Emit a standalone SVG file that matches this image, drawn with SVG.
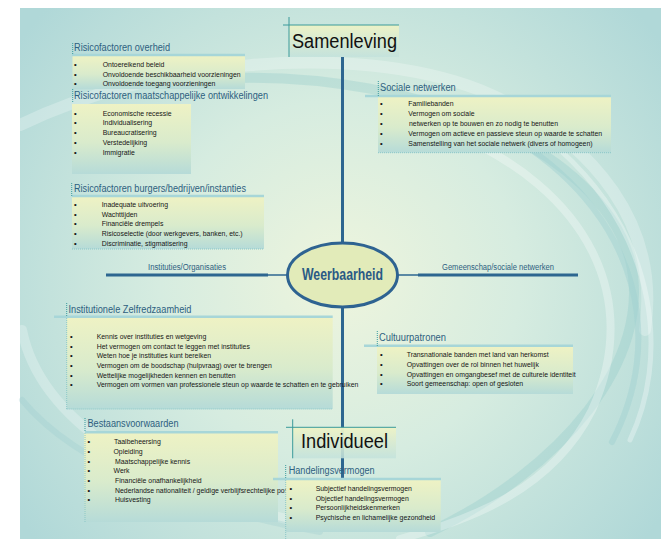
<svg xmlns="http://www.w3.org/2000/svg" width="661" height="539" viewBox="0 0 661 539">
<defs>
<radialGradient id="bg" cx="340" cy="280" r="400" gradientUnits="userSpaceOnUse">
<stop offset="0" stop-color="#eef5dd"/>
<stop offset="0.45" stop-color="#d6ece0"/>
<stop offset="1" stop-color="#b0d8d8"/>
</radialGradient>
<linearGradient id="boxg" x1="0" y1="0" x2="0" y2="1">
<stop offset="0" stop-color="#eef2c4"/>
<stop offset="0.55" stop-color="#d9ebcc"/>
<stop offset="1" stop-color="#b6dbd8"/>
</linearGradient>
<linearGradient id="headg" x1="0" y1="0" x2="0" y2="1">
<stop offset="0" stop-color="#eef3c6" stop-opacity="0.97"/>
<stop offset="1" stop-color="#c3e2dc" stop-opacity="0.85"/>
</linearGradient>
<style>
.title{font-family:"Liberation Sans",Arial,sans-serif;font-size:10px;fill:#2e5f80}
.item{font-family:"Liberation Sans",Arial,sans-serif;font-size:6.9px;fill:#151515}
.bul{font-family:"Liberation Sans",Arial,sans-serif;font-size:7.5px;font-weight:bold;fill:#151515}
.lbl{font-family:"Liberation Sans",Arial,sans-serif;font-size:8.5px;fill:#2e5f80}
.head{font-family:"Liberation Sans",Arial,sans-serif;font-size:20px;fill:#111}
.tick{stroke:#3a9c9e;stroke-width:1;stroke-dasharray:1 1;fill:none}
.bdr{stroke:#8cc7c8;stroke-width:1;stroke-dasharray:1 1;fill:none}
.uline{stroke:#a7d6d8;stroke-width:2.5;fill:none}
.box{fill:url(#boxg)}
.hbox{fill:url(#headg)}
.hline{stroke:#3a9a9a;stroke-width:1;fill:none}
.conn{stroke:#2d6690;fill:none}
.sw{fill:none;stroke-linecap:round}
</style>
</defs>

<g id="background">
<rect x="20" y="8" width="641" height="531" fill="url(#bg)"/>
<path class="sw" d="M20 125 C150 62 350 40 480 90 C600 140 660 230 645 330" stroke="#ffffff" stroke-opacity="0.25" stroke-width="12"/>
<path class="sw" d="M230 78 C420 72 600 150 630 260 C655 360 560 470 430 532" stroke="#8cc6c8" stroke-opacity="0.3" stroke-width="10"/>
<path class="sw" d="M450 132 C590 190 642 300 592 410 C552 490 470 520 400 539" stroke="#ffffff" stroke-opacity="0.3" stroke-width="8"/>
<path class="sw" d="M520 142 C640 220 665 340 612 442" stroke="#9fd0d0" stroke-opacity="0.45" stroke-width="6"/>
<path class="sw" d="M560 150 C660 240 668 360 630 440" stroke="#ffffff" stroke-opacity="0.3" stroke-width="5"/>
<path class="sw" d="M22 330 C40 420 150 490 300 522" stroke="#ffffff" stroke-opacity="0.25" stroke-width="10"/>
<path class="sw" d="M22 400 C80 470 200 510 320 532" stroke="#94c9cb" stroke-opacity="0.25" stroke-width="6"/>
</g>

<g id="connectors">
<line class="conn" x1="342.5" y1="57" x2="342.5" y2="243" stroke-width="3"/>
<line class="conn" x1="342.5" y1="307" x2="342.5" y2="482" stroke-width="3"/>
<line class="conn" x1="106" y1="275" x2="268" y2="275" stroke-width="3"/>
<line class="conn" x1="268" y1="275" x2="287.5" y2="275" stroke-width="1.5"/>
<line class="conn" x1="397.5" y1="275" x2="418" y2="275" stroke-width="1.5"/>
<line class="conn" x1="418" y1="275" x2="578" y2="275" stroke-width="3"/>
<text class="lbl" x="148" y="270" textLength="78" lengthAdjust="spacingAndGlyphs">Instituties/Organisaties</text>
<text class="lbl" x="442" y="270" textLength="112" lengthAdjust="spacingAndGlyphs">Gemeenschap/sociale netwerken</text>
</g>

<g id="samenleving">
<rect class="hbox" x="289" y="25" width="110" height="32"/>
<line class="hline" x1="283" y1="25" x2="399" y2="25"/>
<line class="hline" x1="289" y1="17" x2="289" y2="57"/>
<text class="head" x="292" y="47.5" textLength="105" lengthAdjust="spacingAndGlyphs">Samenleving</text>
</g>

<g id="weerbaarheid">
<ellipse cx="342.5" cy="275" rx="55" ry="32" fill="#e2ebb9" stroke="#2e6391" stroke-width="3"/>
<text x="302" y="280" font-family="Liberation Sans, Arial, sans-serif" font-size="16" font-weight="bold" fill="#2a5a85" textLength="81" lengthAdjust="spacingAndGlyphs">Weerbaarheid</text>
</g>

<g id="individueel">
<rect class="hbox" x="292.7" y="427.3" width="103.3" height="31"/>
<line class="hline" x1="286" y1="427.3" x2="396" y2="427.3"/>
<line class="hline" x1="292.7" y1="419.3" x2="292.7" y2="458.3"/>
<text class="head" x="301" y="447.7" textLength="87" lengthAdjust="spacingAndGlyphs">Individueel</text>
</g>

<g id="risico-overheid">
<rect class="box" x="72.5" y="56" width="172.5" height="33"/>
<line class="uline" x1="72" y1="55" x2="245" y2="55"/>
<line class="tick" x1="72.7" y1="43" x2="72.7" y2="55"/>
<text class="title" x="74" y="50.7" textLength="96" lengthAdjust="spacingAndGlyphs">Risicofactoren overheid</text>
<text class="bul" x="74" y="66.5">•</text><text class="item" x="102.7" y="66.5">Ontoereikend beleid</text>
<text class="bul" x="74" y="76.5">•</text><text class="item" x="102.7" y="76.5">Onvoldoende beschikbaarheid voorzieningen</text>
<text class="bul" x="74" y="86.3">•</text><text class="item" x="102.7" y="86.3">Onvoldoende toegang voorzieningen</text>
</g>

<g id="risico-maatschappelijk">
<rect class="box" x="72" y="104" width="119" height="70"/>
<line class="tick" x1="72.7" y1="89" x2="72.7" y2="103"/>
<text class="title" x="74" y="99" textLength="194" lengthAdjust="spacingAndGlyphs">Risicofactoren maatschappelijke ontwikkelingen</text>
<text class="bul" x="74" y="115.5">•</text><text class="item" x="102.7" y="115.5">Economische recessie</text>
<text class="bul" x="74" y="124.5">•</text><text class="item" x="102.7" y="124.5">Individualisering</text>
<text class="bul" x="74" y="134.5">•</text><text class="item" x="102.7" y="134.5">Bureaucratisering</text>
<text class="bul" x="74" y="144.5">•</text><text class="item" x="102.7" y="144.5">Verstedelijking</text>
<text class="bul" x="74" y="154.5">•</text><text class="item" x="102.7" y="154.5">Immigratie</text>
</g>

<g id="risico-burgers">
<rect class="box" x="72" y="197" width="192" height="52"/>
<line class="bdr" x1="72" y1="249" x2="264" y2="249"/>
<line class="uline" x1="72" y1="196" x2="264" y2="196"/>
<line class="tick" x1="71.7" y1="183" x2="71.7" y2="196"/>
<text class="title" x="74" y="191.7" textLength="172" lengthAdjust="spacingAndGlyphs">Risicofactoren burgers/bedrijven/instanties</text>
<text class="bul" x="74" y="206.5">•</text><text class="item" x="101.7" y="206.5">Inadequate uitvoering</text>
<text class="bul" x="74" y="216.5">•</text><text class="item" x="101.7" y="216.5">Wachttijden</text>
<text class="bul" x="74" y="226.3">•</text><text class="item" x="101.7" y="226.3">Financiële drempels</text>
<text class="bul" x="74" y="235.6">•</text><text class="item" x="101.7" y="235.6">Risicoselectie (door werkgevers, banken, etc.)</text>
<text class="bul" x="74" y="245.5">•</text><text class="item" x="101.7" y="245.5">Discriminatie, stigmatisering</text>
</g>

<g id="sociale-netwerken">
<rect class="box" x="378" y="97" width="233" height="55.7"/>
<line class="bdr" x1="378" y1="152.7" x2="611" y2="152.7"/>
<line class="uline" x1="365" y1="96" x2="611" y2="96"/>
<line class="tick" x1="378.3" y1="81" x2="378.3" y2="96"/>
<text class="title" x="380" y="91" textLength="75.7" lengthAdjust="spacingAndGlyphs">Sociale netwerken</text>
<text class="bul" x="380" y="106.3">•</text><text class="item" x="408.3" y="106.3">Familiebanden</text>
<text class="bul" x="380" y="116.3">•</text><text class="item" x="408.3" y="116.3">Vermogen om sociale</text>
<text class="bul" x="380" y="126">•</text><text class="item" x="409" y="126">netwerken op te bouwen en zo nodig te benutten</text>
<text class="bul" x="380" y="136">•</text><text class="item" x="408.3" y="136">Vermogen om actieve en passieve steun op waarde te schatten</text>
<text class="bul" x="380" y="146.3">•</text><text class="item" x="408.3" y="146.3">Samenstelling van het sociale netwerk (divers of homogeen)</text>
</g>

<g id="institutionele-zelfredzaamheid">
<rect class="box" x="66.7" y="318" width="266" height="91"/>
<line class="bdr" x1="66.7" y1="318" x2="66.7" y2="409"/>
<line class="bdr" x1="66.7" y1="409" x2="332.7" y2="409"/>
<line class="uline" x1="54" y1="316.7" x2="332.7" y2="316.7"/>
<line class="tick" x1="66.7" y1="303" x2="66.7" y2="317"/>
<text class="title" x="68.5" y="312.7" textLength="123" lengthAdjust="spacingAndGlyphs">Institutionele Zelfredzaamheid</text>
<text class="bul" x="70" y="339">•</text><text class="item" x="96.7" y="339">Kennis over instituties en wetgeving</text>
<text class="bul" x="70" y="349">•</text><text class="item" x="96.7" y="349">Het vermogen om contact te leggen met instituties</text>
<text class="bul" x="70" y="358">•</text><text class="item" x="96.7" y="358">Weten hoe je instituties kunt bereiken</text>
<text class="bul" x="70" y="367.6">•</text><text class="item" x="96.7" y="367.6">Vermogen om de boodschap (hulpvraag) over te brengen</text>
<text class="bul" x="70" y="377.6">•</text><text class="item" x="96.7" y="377.6">Wettelijke mogelijkheden kennen en benutten</text>
<text class="bul" x="70" y="387.3">•</text><text class="item" x="96.7" y="387.3">Vermogen om vormen van professionele steun op waarde te schatten en te gebruiken</text>
</g>

<g id="cultuurpatronen">
<rect class="box" x="377" y="347" width="196" height="47"/>
<line class="uline" x1="364" y1="345.7" x2="573" y2="345.7"/>
<line class="tick" x1="377.3" y1="331" x2="377.3" y2="346"/>
<text class="title" x="379" y="341" textLength="67" lengthAdjust="spacingAndGlyphs">Cultuurpatronen</text>
<text class="bul" x="380" y="356.6">•</text><text class="item" x="406.7" y="356.6">Transnationale banden met land van herkomst</text>
<text class="bul" x="380" y="366.6">•</text><text class="item" x="406.7" y="366.6">Opvattingen over de rol binnen het huwelijk</text>
<text class="bul" x="380" y="376.6">•</text><text class="item" x="406.7" y="376.6">Opvattingen en omgangbesef met de  culturele identiteit</text>
<text class="bul" x="380" y="386">•</text><text class="item" x="406.7" y="386">Soort gemeenschap: open of gesloten</text>
</g>

<g id="bestaansvoorwaarden">
<rect class="box" x="84" y="433" width="194" height="89"/>
<line class="bdr" x1="85" y1="433" x2="85" y2="522"/>
<line class="uline" x1="85" y1="432.3" x2="278" y2="432.3"/>
<line class="tick" x1="85" y1="418" x2="85" y2="432"/>
<text class="title" x="87.5" y="427.3" textLength="91" lengthAdjust="spacingAndGlyphs">Bestaansvoorwaarden</text>
<text class="bul" x="87.5" y="444">•</text><text class="item" x="114" y="444">Taalbeheersing</text>
<text class="bul" x="87.5" y="454">•</text><text class="item" x="113.5" y="454">Opleiding</text>
<text class="bul" x="87.5" y="463.6">•</text><text class="item" x="115" y="463.6">Maatschappelijke kennis</text>
<text class="bul" x="87.5" y="473.3">•</text><text class="item" x="113.5" y="473.3">Werk</text>
<text class="bul" x="87.5" y="482.6">•</text><text class="item" x="115" y="482.6">Financiële onafhankelijkheid</text>
<text class="bul" x="87.5" y="492.6">•</text><text class="item" x="115" y="492.6">Nederlandse nationaliteit / geldige verblijfsrechtelijke pos</text>
<text class="bul" x="87.5" y="502.3">•</text><text class="item" x="115" y="502.3">Huisvesting</text>
</g>

<g id="handelingsvermogen">
<rect class="box" x="285.7" y="480" width="155" height="52"/>
<line class="bdr" x1="285.7" y1="480" x2="285.7" y2="539"/>
<line class="uline" x1="273" y1="479" x2="441" y2="479"/>
<line class="tick" x1="285.7" y1="465" x2="285.7" y2="479"/>
<text class="title" x="288.7" y="474" textLength="86" lengthAdjust="spacingAndGlyphs">Handelingsvermogen</text>
<text class="bul" x="289.5" y="491">•</text><text class="item" x="315.7" y="491">Subjectief handelingsvermogen</text>
<text class="bul" x="289.5" y="501">•</text><text class="item" x="315.7" y="501">Objectief handelingsvermogen</text>
<text class="bul" x="289.5" y="510.3">•</text><text class="item" x="315.7" y="510.3">Persoonlijkheidskenmerken</text>
<text class="bul" x="289.5" y="520">•</text><text class="item" x="315.7" y="520">Psychische en lichamelijke gezondheid</text>
</g>
</svg>
